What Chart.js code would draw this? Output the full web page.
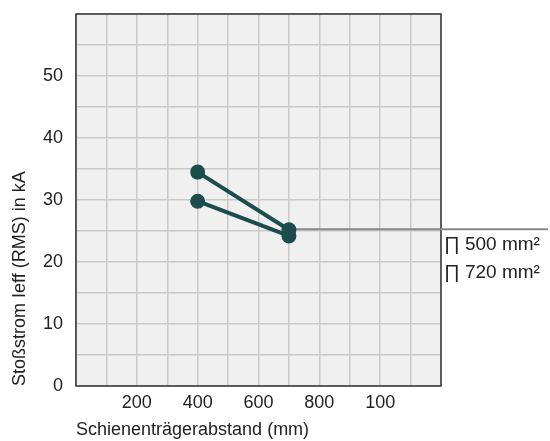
<!DOCTYPE html>
<html>
<head>
<meta charset="utf-8">
<script src="https://cdn.jsdelivr.net/npm/chart.js@4/dist/chart.umd.min.js"></script>
<style>
  html, body { margin: 0; padding: 0; background: #fff; }
  #wrap { width: 550px; height: 441px; }
</style>
</head>
<body>
<div id="wrap"><canvas id="myChart"></canvas></div>
<script>
// series: Schienenträgerabstand (mm) -> Stoßstrom in kA
const xValues = [400, 700];
const series500 = [34.5, 25.2];
const series720 = [29.8, 24.2];
const legendLabels = ['\u220F 500 mm\u00B2', '\u220F 720 mm\u00B2'];

// ticks: grid every 100 / 5, labels only on some of them
const xTickLabels = { 200: '200', 400: '400', 600: '600', 800: '800', 1000: '100' };
const yTickLabels = { 0: '0', 10: '10', 20: '20', 30: '30', 40: '40', 50: '50' };

// gray guide line starts at last point and runs off to the right
const guideX = 700;
const guideY = 25.3;

const FONT = '"Liberation Sans", Arial, sans-serif';
const LINE_COLOR = 'rgb(27, 77, 77)';

const data = {
  datasets: [
    { label: legendLabels[0], data: xValues.map((x, i) => ({ x: x, y: series500[i] })) },
    { label: legendLabels[1], data: xValues.map((x, i) => ({ x: x, y: series720[i] })) }
  ]
};

// draws background, frame, guide line and the labels at the right
const extras = {
  id: 'extras',
  beforeDraw(chart) {
    const { ctx, chartArea: a } = chart;
    ctx.save();
    ctx.fillStyle = '#f0f0f0';
    ctx.fillRect(a.left, a.top, a.right - a.left, a.bottom - a.top);
    ctx.restore();
  },
  beforeDatasetsDraw(chart) {
    const { ctx, chartArea: a, scales } = chart;
    ctx.save();
    ctx.strokeStyle = '#333';
    ctx.lineWidth = 1.5;
    ctx.strokeRect(a.left, a.top, a.right - a.left, a.bottom - a.top);
    const gx = scales.x.getPixelForValue(guideX);
    const gy = scales.y.getPixelForValue(guideY);
    ctx.strokeStyle = '#888';
    ctx.lineWidth = 2;
    ctx.beginPath();
    ctx.moveTo(gx, gy);
    ctx.lineTo(chart.width - 2, gy);
    ctx.stroke();
    ctx.fillStyle = '#222';
    ctx.font = '19px ' + FONT;
    ctx.textBaseline = 'middle';
    ctx.fillText(legendLabels[0], a.right + 3, gy + 16);
    ctx.fillText(legendLabels[1], a.right + 3, gy + 44);
    ctx.restore();
  }
};

const config = {
  type: 'scatter',
  data: data,
  plugins: [extras],
  options: {
    responsive: true,
    maintainAspectRatio: false,
    animation: false,
    showLine: true,
    layout: { padding: { top: 14, right: 109, left: 0, bottom: 0 } },
    elements: {
      line: { borderColor: LINE_COLOR, borderWidth: 4, tension: 0 },
      point: { radius: 7.5, hoverRadius: 7.5, backgroundColor: LINE_COLOR, borderColor: LINE_COLOR, borderWidth: 0 }
    },
    plugins: {
      legend: { display: false },
      tooltip: { enabled: false }
    },
    scales: {
      x: {
        type: 'linear',
        min: 0,
        max: 1200,
        afterFit: s => { s.height = 55; s.paddingLeft = 0; s.paddingRight = 0; },
        border: { display: false },
        grid: { color: '#c9c9c9', lineWidth: 1.5, drawTicks: false },
        ticks: {
          stepSize: 100,
          autoSkip: false,
          maxRotation: 0,
          minRotation: 0,
          padding: 6,
          color: '#222',
          font: { family: FONT, size: 18 },
          callback: v => xTickLabels[v] || ''
        },
        title: {
          display: true,
          text: 'Schienenträgerabstand (mm)',
          align: 'start',
          color: '#222',
          font: { family: FONT, size: 18 },
          padding: { top: 2, bottom: 0 }
        }
      },
      y: {
        type: 'linear',
        min: 0,
        max: 60,
        afterFit: s => { s.width = 76; s.paddingTop = 0; s.paddingBottom = 0; },
        border: { display: false },
        grid: { color: '#c9c9c9', lineWidth: 1.5, drawTicks: false },
        ticks: {
          stepSize: 5,
          autoSkip: false,
          padding: 13,
          color: '#222',
          font: { family: FONT, size: 18 },
          callback: v => yTickLabels[v] || ''
        },
        title: {
          display: true,
          text: 'Stoßstrom Ieff (RMS) in kA',
          align: 'start',
          color: '#222',
          font: { family: FONT, size: 18 },
          padding: { top: 9, bottom: 0 }
        }
      }
    }
  }
};

const myChart = new Chart(document.getElementById('myChart'), config);
</script>
</body>
</html>
